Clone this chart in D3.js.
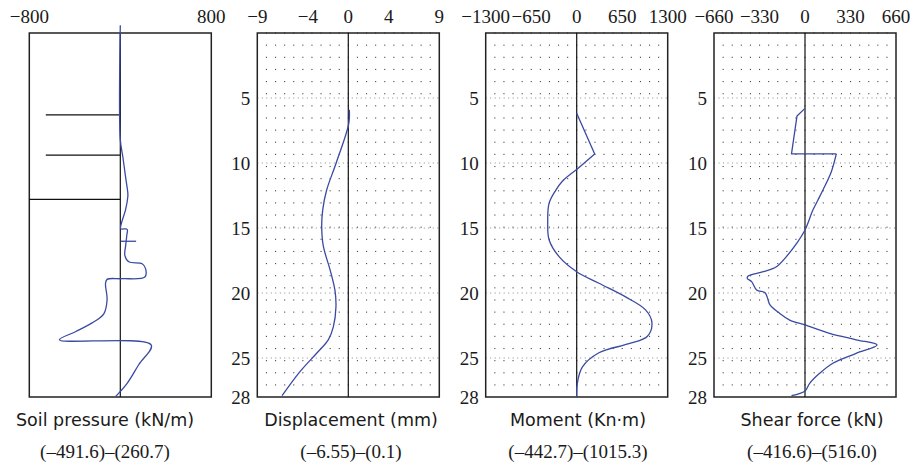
<!DOCTYPE html>
<html>
<head>
<meta charset="utf-8">
<script src="https://cdn.jsdelivr.net/npm/d3@7"></script>
<style>
  body { margin: 0; background: #fff; }
</style>
</head>
<body>
<div id="vis-svg"></div>
<script>
// depth axis, shared by all four panels
var depthTicks = [5, 10, 15, 20, 25, 28];

// soil pressure (kN/m)
var soilDepth = [-0.6, 8.2, 9.5, 11.05, 12.3, 12.6, 13.6, 14.6, 15.05, 15.1, 15.56, 16.3, 17.1, 17.6, 17.75, 18.13, 18.77, 18.9, 18.95, 19.28, 20.5, 21.6, 22.3, 22.98, 23.6, 24.0, 25.5, 26.95, 27.97];
var soilValue = [0, 0, 22, 46, 66, 66, 46, 11, 4, 60, 57, 48, 40, 75, 192, 222, 216, 16, -116, -130, -116, -145, -248, -394, -535, 272, 163, 60, -42];
var soilMarkDepth = [16.02];
var soilMarkFrom = [4];
var soilMarkTo = [139];
// struts (black horizontal lines)
var strutDepth = [6.3, 9.4, 12.8];
var strutFrom = [-655, -655, -800];

// displacement (mm)
var dispDepth = [5.9, 6.95, 10, 12.08, 13.6, 14.9, 16.4, 18.2, 19.8, 21.05, 22.6, 23.6, 24.5, 26.05, 27.9];
var dispValue = [0.1, 0.05, -1.2, -2.14, -2.53, -2.63, -2.47, -1.81, -1.32, -1.22, -1.48, -1.98, -2.97, -4.78, -6.55];

// moment (kN·m)
var momentDepth = [6.18, 9.3, 10.5, 11.4, 12.1, 13.1, 14.6, 15.9, 17.2, 18.36, 19.25, 20.3, 21.3, 22.3, 23.35, 23.9, 24.6, 25.7, 26.95, 28];
var momentValue = [0, 257, 0, -205, -300, -395, -414, -395, -252, 0, 318, 699, 984, 1075, 1007, 746, 318, 80, 9, 0];

// shear force (kN)
var shearDepth = [5.8, 6.38, 9.3, 9.3, 10.67, 12.08, 12.85, 13.6, 15.15, 16.2, 17.2, 17.98, 18.36, 18.7, 18.87, 19.13, 19.77, 19.97, 20.28, 20.9, 21.57, 22.08, 22.46, 23.1, 23.6, 24.0, 24.64, 25.4, 26.18, 26.95, 27.54, 27.9];
var shearValue = [0, -58, -98, 227, 191, 130, 94, 58, 0, -62, -135, -207, -303, -412, -419, -387, -351, -291, -275, -255, -183, -111, 0, 178, 371, 523, 371, 202, 106, 34, 0, -98];

// top tick labels per panel
var soilTicks = [-800, 800];
var dispTicks = [-9, -4, 0, 4, 9];
var momentTicks = [-1300, -650, 0, 650, 1300];
var shearTicks = [-660, -330, 0, 330, 660];

var captionTop = ["Soil pressure (kN/m)", "Displacement (mm)", "Moment (Kn·m)", "Shear force (kN)"];
var captionBottom = ["(–491.6)–(260.7)", "(–6.55)–(0.1)", "(–442.7)–(1015.3)", "(–416.6)–(516.0)"];

var width = 913;
var height = 468;
var plotTop = 33;
var plotBottom = 397;
var panelWidth = 182;
var blue = "#3a4aa3";
var textColor = "#1a1a1a";
var serif = "'Liberation Serif', 'Times New Roman', Times, 'DejaVu Serif', 'Noto Serif', serif";

var svg = d3
.select("#vis-svg")
.append("svg")
.attr("width", width)
.attr("height", height)
.attr("font-family", serif);

var y = d3.scaleLinear().domain([0, 28]).range([plotTop, plotBottom]);

function fmt(t) {
  return t < 0 ? "\u2212" + Math.abs(t) : String(t);
}

function drawPanel(left, ticks, grid, depthLabels) {
  var x = d3.scaleLinear().domain([ticks[0], ticks[ticks.length - 1]]).range([left, left + panelWidth]);
  var g = svg.append("g");

  if (grid) {
    var cols = d3.range(1, 20);
    var rows = d3.range(0, 30);
    var dots = [];
    rows.forEach(function (j) {
      cols.forEach(function (i) { dots.push([i, j]); });
    });
    g.selectAll("rect.dot")
    .data(dots)
    .enter()
    .append("rect")
    .attr("class", "dot")
    .attr("x", function (d) { return left + d[0] * panelWidth / 20 - 0.5; })
    .attr("y", function (d) { return plotTop + d[1] * (plotBottom - plotTop) / 30 - 0.5; })
    .attr("width", 1.1)
    .attr("height", 1.1)
    .attr("fill", "#444");

    g.selectAll("line.tickrow")
    .data(depthTicks.slice(0, 5))
    .enter()
    .append("line")
    .attr("class", "tickrow")
    .attr("x1", left)
    .attr("x2", left + panelWidth)
    .attr("y1", function (d) { return y(d); })
    .attr("y2", function (d) { return y(d); })
    .attr("stroke", "#888")
    .attr("stroke-width", 1)
    .attr("stroke-dasharray", "1,3.5");
  }

  g.append("rect")
  .attr("x", left)
  .attr("y", plotTop)
  .attr("width", panelWidth)
  .attr("height", plotBottom - plotTop)
  .attr("fill", "none")
  .attr("stroke", "#222")
  .attr("stroke-width", 1.5);

  g.append("line")
  .attr("x1", x(0))
  .attr("x2", x(0))
  .attr("y1", plotTop)
  .attr("y2", plotBottom)
  .attr("stroke", "#111")
  .attr("stroke-width", 1.2);

  g.selectAll("text.top")
  .data(ticks)
  .enter()
  .append("text")
  .attr("class", "top")
  .attr("x", function (d) { return x(d); })
  .attr("y", 23)
  .attr("text-anchor", "middle")
  .attr("font-size", 19)
  .attr("fill", textColor)
  .text(fmt);

  if (depthLabels) {
    g.selectAll("text.depth")
    .data(depthTicks)
    .enter()
    .append("text")
    .attr("class", "depth")
    .attr("x", left - 7)
    .attr("y", function (d) { return y(d); })
    .attr("dy", "0.35em")
    .attr("text-anchor", "end")
    .attr("font-size", 19)
    .attr("fill", textColor)
    .text(function (d) { return d; });
  }
  return { g: g, x: x };
}

function curvePath(p, depths, values, curve) {
  var pts = depths.map(function (d, i) { return [values[i], d]; });
  var line = d3.line()
  .x(function (d) { return p.x(d[0]); })
  .y(function (d) { return y(d[1]); })
  .curve(curve);
  p.g.append("path")
  .datum(pts)
  .attr("d", line)
  .attr("fill", "none")
  .attr("stroke", blue)
  .attr("stroke-width", 1.3)
  .attr("stroke-linejoin", "round");
}

var smooth = d3.curveCatmullRom.alpha(0.5);

// soil pressure
var p1 = drawPanel(29.3, soilTicks, false, false);
p1.g.selectAll("line.strut")
.data(strutDepth)
.enter()
.append("line")
.attr("x1", function (d, i) { return p1.x(strutFrom[i]); })
.attr("x2", p1.x(0))
.attr("y1", function (d) { return y(d); })
.attr("y2", function (d) { return y(d); })
.attr("stroke", "#111")
.attr("stroke-width", 1.2);
curvePath(p1, soilDepth, soilValue, smooth);
p1.g.selectAll("line.mark")
.data(soilMarkDepth)
.enter()
.append("line")
.attr("x1", function (d, i) { return p1.x(soilMarkFrom[i]); })
.attr("x2", function (d, i) { return p1.x(soilMarkTo[i]); })
.attr("y1", function (d) { return y(d); })
.attr("y2", function (d) { return y(d); })
.attr("stroke", blue)
.attr("stroke-width", 1.3);

// displacement
var p2 = drawPanel(257.3, dispTicks, true, true);
curvePath(p2, dispDepth, dispValue, smooth);

// moment: sharp kink at the top, smooth below
var p3 = drawPanel(485.7, momentTicks, true, true);
curvePath(p3, momentDepth.slice(0, 3), momentValue.slice(0, 3), d3.curveLinear);
curvePath(p3, momentDepth.slice(2), momentValue.slice(2), smooth);

// shear force: straight steps at the top, smooth below
var p4 = drawPanel(714, shearTicks, true, true);
curvePath(p4, shearDepth.slice(0, 4), shearValue.slice(0, 4), d3.curveLinear);
curvePath(p4, shearDepth.slice(3), shearValue.slice(3), smooth);

var captionX = [105, 351, 578, 812];
svg.selectAll("text.cap1")
.data(captionTop)
.enter()
.append("text")
.attr("x", function (d, i) { return captionX[i]; })
.attr("y", 426)
.attr("text-anchor", "middle")
.attr("font-family", "'DejaVu Sans', sans-serif")
.attr("font-size", 17.5)
.attr("fill", textColor)
.text(function (d) { return d; });

svg.selectAll("text.cap2")
.data(captionBottom)
.enter()
.append("text")
.attr("x", function (d, i) { return captionX[i]; })
.attr("y", 458)
.attr("text-anchor", "middle")
.attr("font-size", 19)
.attr("fill", textColor)
.text(function (d) { return d; });
</script>
</body>
</html>
